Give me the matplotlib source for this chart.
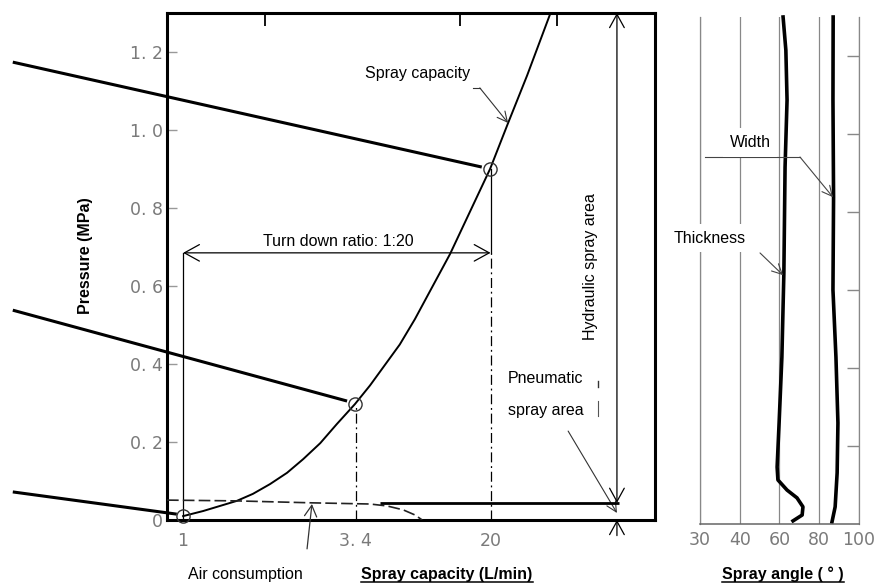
import numpy as np
import matplotlib.pyplot as plt
from matplotlib.lines import Line2D

plt.rcParams['font.family'] = ['Liberation Sans', 'DejaVu Sans']

# pressure axis (MPa), shared by both panels
pressure_ticks = [0, 0.2, 0.4, 0.6, 0.8, 1.0, 1.2]
pressure_labels = ['0', '0. 2', '0. 4', '0. 6', '0. 8', '1. 0', '1. 2']

# capacity axis is a sketch scale: x = position along the axis (0-100)
capacity_pos = [3.3, 38.7, 66.3]
capacity_labels = ['1', '3. 4', '20']
top_tick_pos = [20, 60, 80]

# spray capacity curve
spray_x = [3.3, 7.4, 14.3, 17.6, 21.1, 24.6, 27.9, 31.4, 34.8, 38.5, 41.6,
           47.7, 50.8, 53.9, 58.0, 66.2, 69.9, 73.8, 78.5]
spray_p = [0.010, 0.023, 0.049, 0.067, 0.092, 0.121, 0.156, 0.197, 0.246,
           0.297, 0.345, 0.450, 0.515, 0.587, 0.682, 0.900, 1.018, 1.140, 1.297]

# air consumption (dashed)
air_x = [0, 14.3, 29.7, 41.6, 45.1, 48.4, 50.8, 52.3]
air_p = [0.051, 0.049, 0.044, 0.041, 0.036, 0.026, 0.013, 0.0]

# marked points on the capacity curve
point_x = [3.3, 38.5, 66.2]
point_p = [0.010, 0.297, 0.900]

# thick leader lines coming in from the left
leader_start_x = -31.6
leader_start_p = [1.174, 0.538, 0.072]
leader_end_x = [64.5, 36.9, 2.0]
leader_end_p = [0.905, 0.305, 0.015]

turn_down_p = 0.685
hydraulic_x = 92.2
pneumatic_p = 0.044

# spray angle panel
angle_ticks = [30, 40, 60, 80, 100]
angle_idx = [0, 1, 2, 3, 4]
thickness_p = [1.3, 1.215, 1.087, 0.915, 0.644, 0.428, 0.259, 0.146, 0.113,
               0.087, 0.067, 0.044, 0.023, 0.008]
thickness_deg = [61.8, 63.2, 63.8, 62.8, 62.2, 61.2, 59.8, 58.8, 59.2,
                 63.8, 68.8, 71.8, 71.4, 66.8]
width_p = [1.3, 1.087, 0.838, 0.6, 0.428, 0.259, 0.131, 0.044, 0.005]
width_deg = [87.0, 86.9, 87.2, 86.9, 88.4, 89.4, 89.0, 88.0, 86.4]

W, H = 878, 583
fig = plt.figure(figsize=(W / 100, H / 100), dpi=100)
ax = fig.add_axes([167 / W, 1 - 520 / H, 488 / W, 507 / H])
ax2 = fig.add_axes([700 / W, 1 - 524 / H, 159 / W, 507 / H])

tick_gray = '#7a7a7a'
thin = 0.9

# ---- main chart ----
ax.set_xlim(0, 100)
ax.set_ylim(0, 1.3)
for s in ax.spines.values():
    s.set_linewidth(2.2)
    s.set_color('black')

ax.set_yticks(pressure_ticks)
ax.set_yticklabels(pressure_labels, family='DejaVu Sans', fontsize=12.5, color=tick_gray)
ax.set_xticks(capacity_pos)
ax.set_xticklabels(capacity_labels, family='DejaVu Sans', fontsize=12.5, color=tick_gray)
ax.set_xticks(top_tick_pos, minor=True)
ax.tick_params(axis='y', direction='in', length=7, width=1, color='#999999', pad=3)
ax.tick_params(axis='x', which='major', length=0, pad=9)
ax.tick_params(axis='x', which='minor', bottom=False, top=True, direction='in',
               length=9, width=1.3, color='black')

ax.plot(spray_x, spray_p, color='black', lw=1.4, zorder=3)
ax.plot(air_x, air_p, color='#222222', lw=1.2, ls=(0, (7, 2.5)), zorder=3)
ax.plot(point_x, point_p, 'o', mfc='none', mec='#333333', ms=9.5, mew=1,
        zorder=5, clip_on=False)

for sp, ex, ep in zip(leader_start_p, leader_end_x, leader_end_p):
    ax.plot([leader_start_x, ex], [sp, ep], color='black', lw=2.2,
            clip_on=False, solid_capstyle='butt', zorder=4)

dashdot = (0, (8, 3, 1.5, 3))
ax.plot([capacity_pos[0]] * 2, [0, turn_down_p], color='black', lw=thin)
ax.plot([capacity_pos[1]] * 2, [0, point_p[1]], color='black', lw=thin, ls=dashdot)
ax.plot([capacity_pos[2]] * 2, [turn_down_p, point_p[2]], color='black', lw=thin)
ax.plot([capacity_pos[2]] * 2, [0, turn_down_p], color='black', lw=thin, ls=dashdot)

ax.annotate('', xy=(capacity_pos[2], turn_down_p), xytext=(capacity_pos[0], turn_down_p),
            arrowprops=dict(arrowstyle='<->,head_length=0.4,head_width=0.22',
                            mutation_scale=27, lw=thin, shrinkA=0, shrinkB=0))
ax.text(35.2, 0.715, 'Turn down ratio: 1:20', fontsize=11.5, ha='center', va='center')

# spray capacity label
ax.text(51.3, 1.146, 'Spray capacity', fontsize=11.5, ha='center', va='center')
ax.plot([62.7, 64.1], [1.108, 1.108], color='#333333', lw=0.8)
ax.annotate('', xy=(69.9, 1.018), xytext=(64.1, 1.108),
            arrowprops=dict(arrowstyle='->,head_length=0.4,head_width=0.2',
                            mutation_scale=18, lw=0.8, color='#333333',
                            shrinkA=0, shrinkB=0))

# hydraulic / pneumatic ranges
ax.annotate('', xy=(hydraulic_x, 1.3), xytext=(hydraulic_x, pneumatic_p),
            arrowprops=dict(arrowstyle='<->,head_length=0.4,head_width=0.22',
                            mutation_scale=24, lw=thin, shrinkA=0, shrinkB=0))
ax.annotate('', xy=(hydraulic_x, 0.0), xytext=(hydraulic_x, -0.04),
            annotation_clip=False,
            arrowprops=dict(arrowstyle='->,head_length=0.4,head_width=0.22',
                            mutation_scale=24, lw=thin, shrinkA=0, shrinkB=0))
ax.plot([43.6, 92.6], [pneumatic_p, pneumatic_p], color='black', lw=2,
        solid_capstyle='butt', zorder=4)
ax.text(86.7, 0.649, 'Hydraulic spray area', fontsize=11.5, rotation=90,
        ha='center', va='center')
ax.text(69.9, 0.362, 'Pneumatic', fontsize=11.5, ha='left', va='center')
ax.text(69.9, 0.282, 'spray area', fontsize=11.5, ha='left', va='center')
ax.plot([88.3, 88.3], [0.356, 0.340], color='#333333', lw=1)
ax.plot([88.3, 88.3], [0.305, 0.267], color='#555555', lw=0.8)
ax.annotate('', xy=(92.2, 0.018), xytext=(82.2, 0.228),
            arrowprops=dict(arrowstyle='->,head_length=0.4,head_width=0.2',
                            mutation_scale=18, lw=0.8, color='#333333',
                            shrinkA=0, shrinkB=0))

# air consumption arrow (text sits below the axis)
ax.annotate('', xy=(29.7, 0.041), xytext=(28.7, -0.074), annotation_clip=False,
            arrowprops=dict(arrowstyle='->,head_length=0.4,head_width=0.22',
                            mutation_scale=20, lw=0.9, color='#333333',
                            shrinkA=0, shrinkB=0))

# ---- spray angle panel ----
fwd = lambda v: np.interp(v, angle_ticks, angle_idx)
inv = lambda u: np.interp(u, angle_idx, angle_ticks)
ax2.set_xscale('function', functions=(fwd, inv))
ax2.set_xlim(30, 100)
ax2.set_ylim(0, 1.3)
ax2.set_xticks(angle_ticks)
ax2.set_xticklabels([str(a) for a in angle_ticks], family='DejaVu Sans',
                    fontsize=12.5, color=tick_gray)
ax2.set_yticks(pressure_ticks[1:])
ax2.yaxis.tick_right()
ax2.tick_params(axis='y', direction='in', length=9, width=1, color='#888888',
                labelright=False)
ax2.tick_params(axis='x', length=0, pad=5)
ax2.spines['top'].set_visible(False)
for side in ['left', 'right']:
    ax2.spines[side].set_color('#888888')
    ax2.spines[side].set_linewidth(thin)
ax2.spines['bottom'].set_color('#666666')
ax2.spines['bottom'].set_linewidth(1.1)
ax2.set_axisbelow(True)
ax2.grid(axis='x', color='#888888', lw=thin)

ax2.plot(thickness_deg, thickness_p, color='black', lw=2.6, clip_on=False)
ax2.plot(width_deg, width_p, color='black', lw=2.6, clip_on=False)

ax2.plot([31.3, 70.3], [0.941, 0.941], color='#444444', lw=0.8, clip_on=False)
ax2.annotate('', xy=(86.9, 0.838), xytext=(70.3, 0.941),
             arrowprops=dict(arrowstyle='->,head_length=0.4,head_width=0.2',
                             mutation_scale=18, lw=0.8, color='#444444',
                             shrinkA=0, shrinkB=0))
ax2.annotate('', xy=(61.8, 0.638), xytext=(50.2, 0.695),
             arrowprops=dict(arrowstyle='->,head_length=0.4,head_width=0.2',
                             mutation_scale=18, lw=0.8, color='#444444',
                             shrinkA=0, shrinkB=0))
box = dict(facecolor='white', edgecolor='none', pad=5)
ax2.text(45.2, 0.979, 'Width', fontsize=11.5, ha='center', va='center', bbox=box, zorder=6)
ax2.text(32.5, 0.733, 'Thickness', fontsize=11.5, ha='center', va='center', bbox=box, zorder=6)

# ---- outer labels ----
fig.text(86 / W, 1 - 256 / H, 'Pressure (MPa)', rotation=90, fontsize=11.5,
         fontweight='bold', ha='center', va='center')
fig.text(245 / W, 1 - 579 / H, 'Air consumption', fontsize=11.5, ha='center', va='baseline')
xlab = fig.text(447 / W, 1 - 579 / H, 'Spray capacity (L/min)', fontsize=11.5,
                fontweight='bold', ha='center', va='baseline')
alab = fig.text(783 / W, 1 - 579 / H, 'Spray angle ( ° )', fontsize=11.5,
                fontweight='bold', ha='center', va='baseline')

fig.canvas.draw()
renderer = fig.canvas.get_renderer()
for t in (xlab, alab):
    bb = t.get_window_extent(renderer).transformed(fig.transFigure.inverted())
    y = 1 - 582 / H
    fig.add_artist(Line2D([bb.x0, bb.x1], [y, y], transform=fig.transFigure,
                          color='black', lw=1.1))

fig.savefig('out.png', dpi=100)
